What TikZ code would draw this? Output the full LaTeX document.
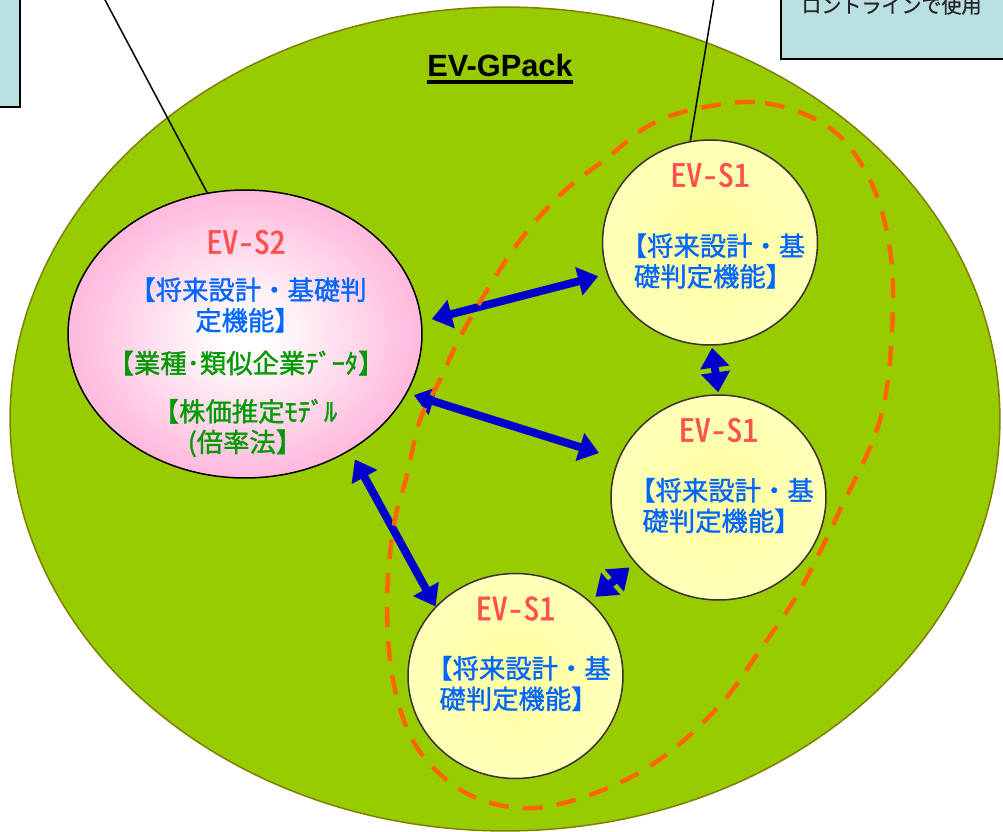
\documentclass[tikz,border=0pt]{standalone}
\usepackage{fontspec}
\setmainfont{Liberation Sans}
\newfontfamily\jpfont[FakeBold=1.2]{Noto Sans CJK JP}
\newfontfamily\notefont[FakeBold=0.8]{Noto Sans CJK JP}
\newfontfamily\evfont[RawFeature=+hwid, FakeBold=1.5]{Noto Sans CJK JP}
\usetikzlibrary{calc}
\usetikzlibrary{positioning}
\usetikzlibrary{shapes.geometric}
\usetikzlibrary{arrows.meta}

\definecolor{gpgreen}{RGB}{153,204,0}
\definecolor{gpedge}{RGB}{128,128,0}
\definecolor{evred}{RGB}{255,80,80}
\definecolor{evblue}{RGB}{0,102,255}
\definecolor{evgreen}{RGB}{0,153,0}
\definecolor{evpink}{RGB}{255,153,204}
\definecolor{evcream}{RGB}{255,255,204}
\definecolor{evyellow}{RGB}{255,255,160}
\definecolor{arrowblue}{RGB}{0,0,204}
\definecolor{dashorange}{RGB}{255,102,0}
\definecolor{noteblue}{RGB}{187,224,227}

\pgfdeclareradialshading{pinkglow}{\pgfpoint{0bp}{0bp}}{color(0bp)=(white); color(3bp)=(white); color(35bp)=(evpink); color(100bp)=(evpink)}
\pgfdeclareradialshading{creamglow}{\pgfpoint{0bp}{0bp}}{color(0bp)=(evyellow); color(44bp)=(evcream); color(100bp)=(evcream)}

\tikzset{
	gpack/.style={ellipse, draw=gpedge, line width=0.03cm, fill=gpgreen,
		minimum width=19.8cm, minimum height=16.48cm, inner sep=0pt},
	gptitle/.style={font=\bfseries\fontsize{17.5pt}{20pt}\selectfont, inner sep=0pt},
	s2ball/.style={ellipse, draw=black, line width=0.03cm, shading=pinkglow,
		minimum width=7.08cm, minimum height=5.76cm, inner sep=0pt},
	s1ball/.style={ellipse, draw=black!80!olive, line width=0.03cm, shading=creamglow,
		minimum width=4.3cm, minimum height=4.1cm, inner sep=0pt},
	evhead/.style={text=evred, font=\evfont\fontsize{18pt}{20pt}\selectfont, inner sep=0pt},
	bluetext/.style={text=evblue, align=center, inner sep=0pt,
		font=\jpfont\fontsize{15pt}{17.4pt}\selectfont},
	greentext/.style={bluetext, text=evgreen},
	biarrow/.style={{Triangle[length=0.4cm, width=0.56cm]}-{Triangle[length=0.4cm, width=0.56cm]},
		line width=0.16cm, draw=arrowblue},
	fencedash/.style={draw=dashorange, line width=0.09cm, dash pattern=on 0.4cm off 0.28cm},
	pointer/.style={black, line width=0.03cm},
	notebox/.style={draw=black, line width=0.04cm, fill=noteblue},
	notetext/.style={text=black!85, font=\notefont\fontsize{11.4pt}{13pt}\selectfont, inner sep=0pt},
}

\begin{document}
\begin{tikzpicture}[x=0.02cm, y=-0.02cm]
		\newcommand\evone[4]{
			% (name, x, y, text shift)
			\node[s1ball] (#1) at (#2, #3) {};
			\node[evhead] (#1head) at ($(#1)+(0,-67.5)$) {EV-S1};
			\node[bluetext] (#1fn) at ($(#1)+(3,#4)$) {【将来設計・基\\礎判定機能】};
		}
		
		\useasboundingbox (0,0) rectangle (1003,831);
		\clip (0,0) rectangle (1003,831);
		
		\node[gpack] (gp) at (505,419) {};
		\node[gptitle, anchor=base] (gptitle) at (500,77) {EV-GPack};
		\draw[line width=0.065cm] ($(gptitle.base west)+(0,5)$) -- ($(gptitle.base east)+(0,5)$);
		
		\node[s2ball] (s2) at (245,334) {};
		\node[evhead] (s2head) at ($(s2)+(1,-92)$) {EV-S2};
		\node[bluetext] (s2fn) at ($(s2)+(3,-29)$) {【将来設計・基礎判\\定機能】};
		\node[greentext] (s2data) at ($(s2)+(1,29)$) {【業種･類似企業ﾃﾞｰﾀ】};
		\node[greentext] (s2model) at ($(s2)+(0,94)$) {【株価推定ﾓﾃﾞﾙ\\(倍率法】};
		
		\evone{s1a}{710}{242.5}{18.5}
		\evone{s1b}{718.5}{497.5}{8}
		\evone{s1c}{515.5}{676}{7.5}
		
		\draw[biarrow, shorten <=0.2cm, shorten >=0.18cm] (s2.4) -- (s1a.197);
		\draw[biarrow, shorten <=0.14cm, shorten >=0.4cm] (s2.-20) -- (s1b.159);
		\draw[biarrow, shorten <=0.2cm] (s2.-48) -- (s1c.139);
		\draw[biarrow, shorten <=0.04cm, shorten >=0.04cm] (s1a.-89) -- (s1b.90);
		\draw[biarrow, shorten <=0.14cm, shorten >=0.14cm] (s1b.218) -- (s1c.45);
		
		\draw[fencedash] plot[smooth cycle, tension=0.6] coordinates {
			(700,108) (765,103) (830,128) (870,180) (890,250) (892,330) (880,420)
			(840,510) (800,590) (760,650) (720,705) (663,757) (603,790) (533,808)
			(470,795) (420,752) (395,690) (387,610) (393,530) (407,475) (420,420)
			(440,380) (465,328) (513,250) (560,195) (607,158) (650,125)};
		
		\coordinate (leftcall) at (104,-2);
		\coordinate (rightcall) at (714,-2);
		\draw[pointer] (leftcall) -- (s2.105);
		\draw[pointer] (rightcall) -- (s1a.101);
		
		\node[notebox, anchor=south east, minimum width=1.2cm, minimum height=3cm] (leftnote) at (21,108) {};
		\node[notebox, anchor=south west, minimum width=5cm, minimum height=2cm] (rightnote) at (780,60) {};
		\node[notetext, anchor=base west] (rightnotetext) at (801,13) {ロントラインで使用};
		
	\end{tikzpicture}
\end{document}
